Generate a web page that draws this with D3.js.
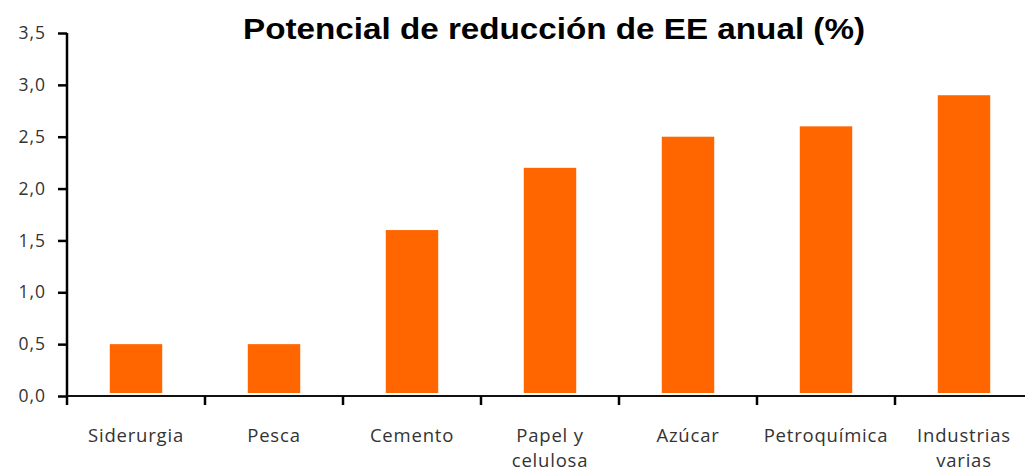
<!DOCTYPE html>
<html>
<head>
<meta charset="utf-8">
<script src="https://cdn.jsdelivr.net/npm/d3@7"></script>
<style>
  html, body { margin: 0; padding: 0; background: #fff; }
  svg { display: block; }
</style>
</head>
<body>
<svg id="chart" width="1025" height="475"></svg>
<script>
const title = "Potencial de reducción de EE anual (%)";
const categories = ["Siderurgia", "Pesca", "Cemento", "Papel y\ncelulosa", "Azúcar", "Petroquímica", "Industrias\nvarias"];
const values = [0.5, 0.5, 1.6, 2.2, 2.5, 2.6, 2.9];
const yTicks = [0, 0.5, 1.0, 1.5, 2.0, 2.5, 3.0, 3.5];

const svg = d3.select("#chart");
const mLeft = 67, mRight = 1033, mTop = 33, mBottom = 396;

const x = d3.scaleBand().domain(categories).range([mLeft, mRight]).padding(0);
const xBar = d3.scaleBand().domain(categories).range([mLeft, mRight]).paddingInner(0.62).paddingOuter(0.31);
const y = d3.scaleLinear().domain([0, 3.5]).range([mBottom, mTop]);

// bars
svg.append("g").selectAll("rect").data(values).join("rect")
  .attr("x", (d, i) => xBar(categories[i]))
  .attr("width", xBar.bandwidth())
  .attr("y", d => y(d))
  .attr("height", d => y(0) - y(d) - 3)
  .attr("fill", "#ff6600");

// y axis
const yAxis = d3.axisLeft(y).tickValues(yTicks).tickSize(9).tickSizeOuter(0)
  .tickFormat(d => d3.format(".1f")(d).replace(".", ","));
const gy = svg.append("g").attr("transform", `translate(${mLeft},0)`).call(yAxis);
gy.select(".domain").attr("stroke", "#000").attr("stroke-width", 2.5)
  .attr("d", `M0,${mTop}V${mBottom + 9}`);
gy.selectAll(".tick line").attr("stroke", "#000").attr("stroke-width", 2.5);
gy.selectAll(".tick text")
  .attr("x", -21)
  .attr("fill", "#333")
  .style("font-family", "'Open Sans', sans-serif")
  .style("font-size", "17.5px")
  .style("letter-spacing", "1px");

// x axis
const gx = svg.append("g").attr("transform", `translate(0,${mBottom})`);
gx.append("line").attr("x1", mLeft).attr("x2", mRight).attr("stroke", "#111").attr("stroke-width", 1.8);
gx.selectAll("line.tk").data(categories.slice(1)).join("line").attr("class", "tk")
  .attr("x1", d => x(d)).attr("x2", d => x(d))
  .attr("y1", 0).attr("y2", 9)
  .attr("stroke", "#000").attr("stroke-width", 2.5);

gx.selectAll("text.lbl").data(categories).join("text").attr("class", "lbl")
  .attr("text-anchor", "middle")
  .attr("fill", "#333")
  .style("font-family", "'Open Sans', sans-serif")
  .style("font-size", "18.5px")
  .style("letter-spacing", "0.8px")
  .each(function (d) {
    const t = d3.select(this);
    d.split("\n").forEach((line, i) => {
      t.append("tspan")
        .attr("x", x(d) + x.bandwidth() / 2)
        .attr("y", 46 + i * 25)
        .text(line);
    });
  });

// title
svg.append("text")
  .attr("x", 554).attr("y", 39)
  .attr("text-anchor", "middle")
  .attr("fill", "#000")
  .attr("textLength", 622)
  .attr("lengthAdjust", "spacingAndGlyphs")
  .style("font-family", "'Liberation Sans', Arial, sans-serif")
  .style("font-weight", "bold")
  .style("font-size", "29px")
  .text(title);
</script>
</body>
</html>
